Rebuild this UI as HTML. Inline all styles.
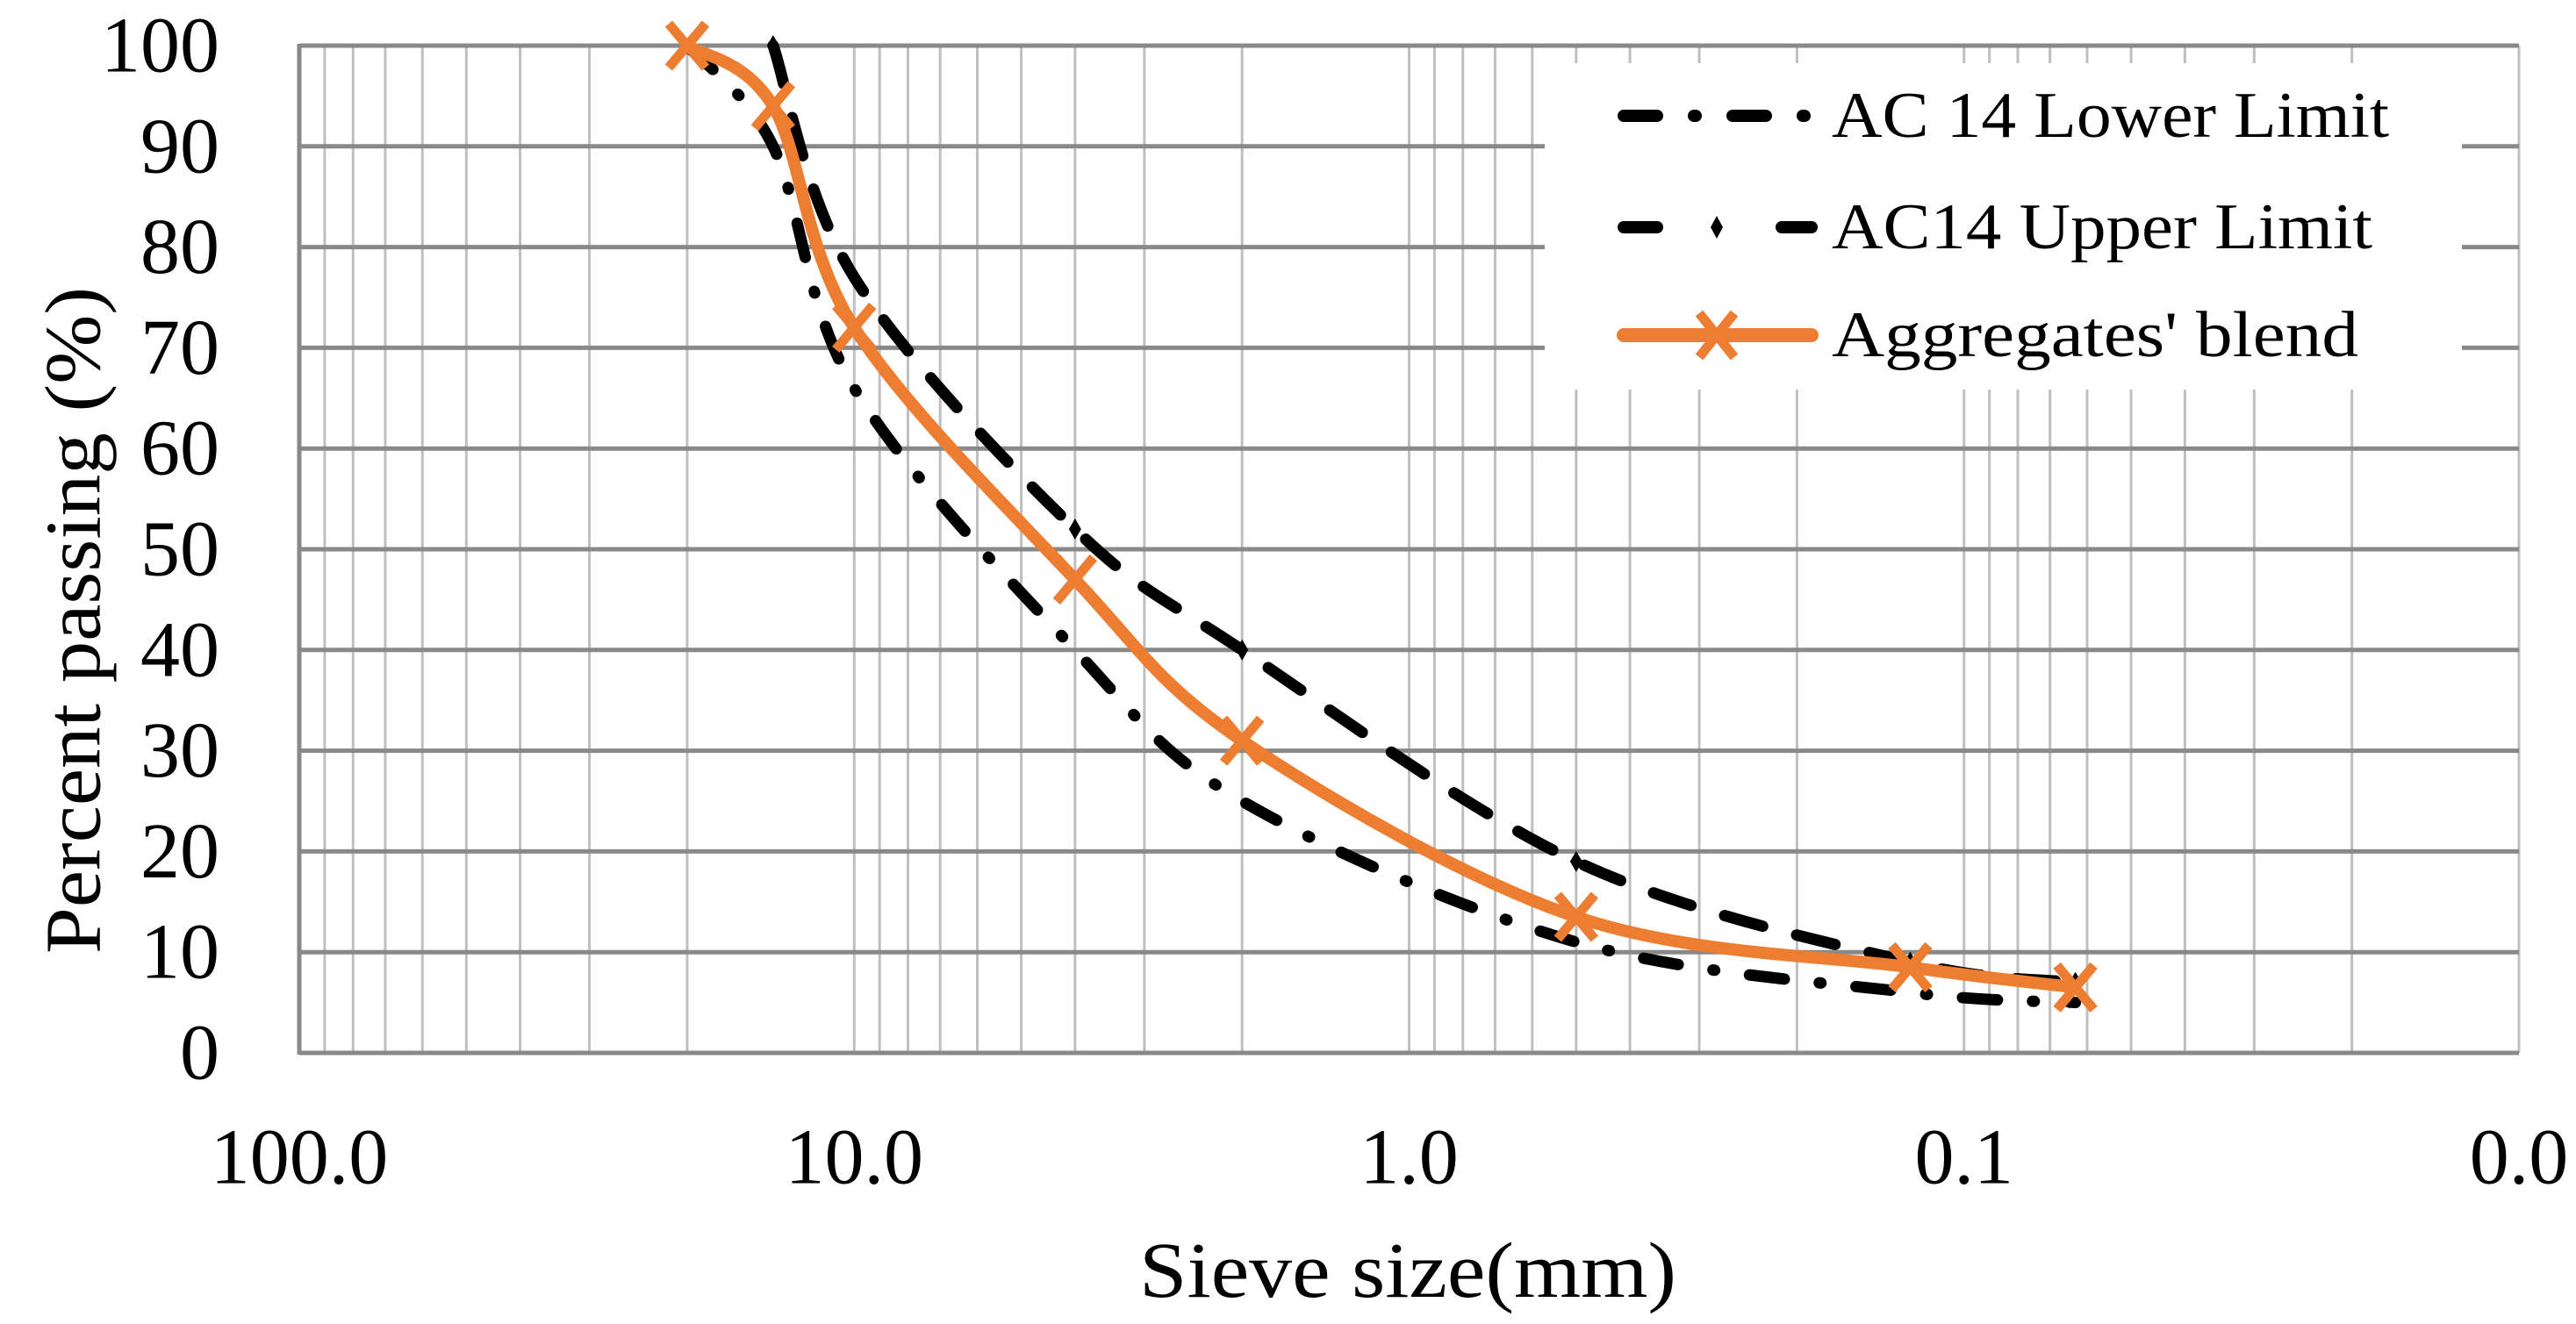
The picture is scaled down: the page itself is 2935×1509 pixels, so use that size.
<!DOCTYPE html>
<html><head><meta charset="utf-8"><style>
html,body{margin:0;padding:0;background:#fff;}
svg{display:block;font-family:"Liberation Serif",serif;}
</style></head><body>
<svg id="chart" width="2935" height="1509" viewBox="0 0 2935 1509" xmlns="http://www.w3.org/2000/svg">
<g id="grid"></g>
<g id="axes"></g>
<g id="series"></g>
<g id="legend">
  <rect x="1760" y="72" width="1045" height="372" fill="#fff"/>
  <g>
    <line x1="1850" y1="132" x2="2064" y2="132" stroke="#000" stroke-width="14" stroke-linecap="round" stroke-dasharray="38,42,2,42" />
    <text x="2087" y="132" font-size="74" dominant-baseline="central" textLength="635" lengthAdjust="spacingAndGlyphs">AC 14 Lower Limit</text>
  </g>
  <g>
    <line x1="1850" y1="259" x2="2064" y2="259" stroke="#000" stroke-width="14" stroke-linecap="round" stroke-dasharray="38,500"/>
    <line x1="2030" y1="259" x2="2064" y2="259" stroke="#000" stroke-width="14" stroke-linecap="round"/>
    <path d="M1956,246 L1963,259 L1956,272 L1949,259 Z" fill="#000"/>
    <text x="2087" y="259" font-size="74" dominant-baseline="central" textLength="616" lengthAdjust="spacingAndGlyphs">AC14 Upper Limit</text>
  </g>
  <g>
    <line x1="1850" y1="382" x2="2064" y2="382" stroke="#ED7D31" stroke-width="16" stroke-linecap="round"/>
    <path d="M1936,357 L1976,407 M1976,357 L1936,407" stroke="#ED7D31" stroke-width="11"/>
    <text x="2087" y="382" font-size="74" dominant-baseline="central" textLength="600" lengthAdjust="spacingAndGlyphs">Aggregates' blend</text>
  </g>
</g>
<text x="1604" y="1478" font-size="90" text-anchor="middle" textLength="612" lengthAdjust="spacingAndGlyphs">Sieve size(mm)</text>
<text transform="translate(84,707) rotate(-90)" font-size="90" text-anchor="middle" dominant-baseline="central" textLength="760" lengthAdjust="spacingAndGlyphs">Percent passing (%)</text>
<script>
const sieves = [20, 14, 10, 4, 2, 0.5, 0.125, 0.063];
const blend = [100, 94, 72, 47, 31, 13.5, 8.5, 6.5];
const lowerSieves = [20, 14, 10, 4, 2, 0.5, 0.125, 0.063];
const lower = [100, 90, 66, 40, 25, 11, 6, 5];
const upperSieves = [14, 10, 4, 2, 0.5, 0.125, 0.063];
const upper = [100, 77, 52, 40, 19, 9, 7];
const xTicks = [100, 10, 1, 0.1, 0.01];
const xTickLabels = ["100.0", "10.0", "1.0", "0.1", "0.0"];
const yTicks = [0, 10, 20, 30, 40, 50, 60, 70, 80, 90, 100];

const NS = "http://www.w3.org/2000/svg";
const X0 = 341, X1 = 2870, Y0 = 1200, Y1 = 52;
function xs(v){ return X0 + (2 - Math.log10(v)) / 4 * (X1 - X0); }
function ys(v){ return Y0 - v / 100 * (Y0 - Y1); }
function mk(tag, attrs, parent){ const e = document.createElementNS(NS, tag); for (const k in attrs) e.setAttribute(k, attrs[k]); parent.appendChild(e); return e; }

const grid = document.getElementById('grid');
for (let d = -2; d < 2; d++) {
  for (let m = 1; m <= 9; m++) {
    const v = m * Math.pow(10, d);
    const l = mk('line', {x1: xs(v), x2: xs(v), y1: Y1, y2: Y0, stroke: '#bfbfbf', 'stroke-width': 3}, grid);
    
    
  }
}
for (const t of yTicks) {
  const l = mk('line', {x1: X0, x2: X1, y1: ys(t), y2: ys(t), stroke: '#898989', 'stroke-width': 5}, grid);
  
  
}
const axes = document.getElementById('axes');
const la = mk('line', {x1: X0, x2: X0, y1: Y1 - 2, y2: Y0 + 2, stroke: '#898989', 'stroke-width': 5}, axes);


yTicks.forEach(t => {
  const tx = mk('text', {x: 250, y: ys(t), 'font-size': 90, 'text-anchor': 'end', 'dominant-baseline': 'central'}, axes);
  tx.textContent = String(t);
  
  
});
xTicks.forEach((t, i) => {
  const tx = mk('text', {x: xs(t), y: 1319, 'font-size': 90, 'text-anchor': 'middle', 'dominant-baseline': 'central'}, axes);
  tx.textContent = xTickLabels[i];
  
  
});

function smooth(pts){
  let d = `M${pts[0][0]},${pts[0][1]}`;
  for (let i = 0; i < pts.length - 1; i++) {
    const p0 = pts[i-1] || pts[i], p1 = pts[i], p2 = pts[i+1], p3 = pts[i+2] || p2;
    const t = 1/6;
    const c1 = [p1[0] + (p2[0]-p0[0])*t, p1[1] + (p2[1]-p0[1])*t];
    const c2 = [p2[0] - (p3[0]-p1[0])*t, p2[1] - (p3[1]-p1[1])*t];
    d += ` C${c1[0]},${c1[1]} ${c2[0]},${c2[1]} ${p2[0]},${p2[1]}`;
  }
  return d;
}
const series = document.getElementById('series');
const lp = lowerSieves.map((s,i) => [xs(s), ys(lower[i])]);
const up = upperSieves.map((s,i) => [xs(s), ys(upper[i])]);
const bp = sieves.map((s,i) => [xs(s), ys(blend[i])]);
const lowerPath = mk('path', {d: smooth(lp), fill: 'none', stroke: '#000', 'stroke-width': 13, 'stroke-linecap': 'round', 'stroke-dasharray': '40,40,2,40'}, series);


const upperPath = mk('path', {d: smooth(up), fill: 'none', stroke: '#000', 'stroke-width': 13, 'stroke-linecap': 'round', 'stroke-dasharray': '45,40'}, series);


up.forEach(p => {
  const m = mk('path', {d: `M${p[0]},${p[1]-12} L${p[0]+7},${p[1]} L${p[0]},${p[1]+12} L${p[0]-7},${p[1]} Z`, fill: '#000'}, series);
  
  
});
const blendPath = mk('path', {d: smooth(bp), fill: 'none', stroke: '#ED7D31', 'stroke-width': 14, 'stroke-linecap': 'round'}, series);


bp.forEach(p => {
  const m = mk('path', {d: `M${p[0]-21},${p[1]-25} L${p[0]+21},${p[1]+25} M${p[0]+21},${p[1]-25} L${p[0]-21},${p[1]+25}`, stroke: '#ED7D31', 'stroke-width': 11}, series);
  
  
});
</script>
</svg>
</body></html>
